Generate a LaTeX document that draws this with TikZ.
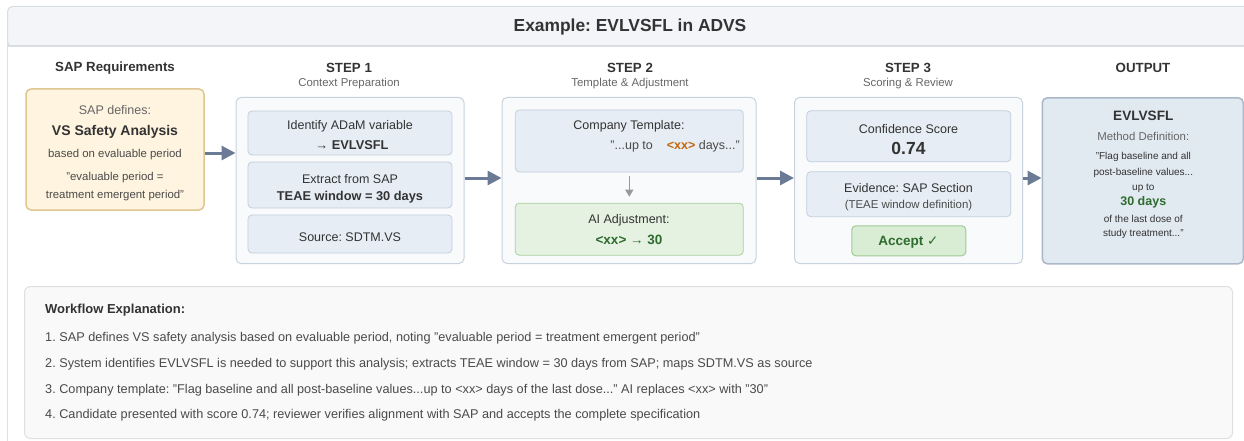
\documentclass[tikz,border=0pt]{standalone}
\usepackage{fontspec}
\setmainfont{Liberation Sans}
\newfontfamily\symfont{DejaVu Sans}
\usetikzlibrary{arrows.meta}
\frenchspacing

\definecolor{ink}{HTML}{333333}
\definecolor{soft}{HTML}{666666}
\definecolor{mid}{HTML}{4A4A4A}
\definecolor{titlefill}{HTML}{F4F5F8}
\definecolor{titleline}{HTML}{DADDE2}
\definecolor{frameline}{HTML}{E0E0E0}
\definecolor{sapfill}{HTML}{FFF4DF}
\definecolor{sapline}{HTML}{DEC792}
\definecolor{panelfill}{HTML}{F8FAFC}
\definecolor{panelline}{HTML}{C9D2DD}
\definecolor{infill}{HTML}{E6EDF4}
\definecolor{inline}{HTML}{C3CFDC}
\definecolor{greenfill}{HTML}{E5F2E1}
\definecolor{greenline}{HTML}{A9D19C}
\definecolor{okfill}{HTML}{D8EDD3}
\definecolor{okline}{HTML}{9FCB95}
\definecolor{okink}{HTML}{2E6B2E}
\definecolor{outfill}{HTML}{E1E9F1}
\definecolor{outline}{HTML}{A9B7C8}
\definecolor{flowc}{HTML}{6B7B95}
\definecolor{tmplc}{HTML}{C8650A}
\definecolor{notefill}{HTML}{F9F9F9}

\begin{document}
\begin{tikzpicture}[x=1pt,y=-1pt,
  txt/.style={inner sep=0pt, text=ink, font=\fontsize{12.5}{15}\selectfont},
  bold/.style={inner sep=0pt, text=ink, font=\fontsize{12.8}{15}\selectfont\bfseries},
  hdr/.style={inner sep=0pt, text=ink, font=\fontsize{13.3}{16}\selectfont\bfseries},
  sub/.style={inner sep=0pt, text=soft, font=\fontsize{11.4}{14}\selectfont},
  quote/.style={inner sep=0pt, text=ink, font=\fontsize{10}{12}\selectfont},
  note/.style={inner sep=0pt, anchor=west, text=mid, font=\fontsize{12.7}{15}\selectfont},
  panel/.style={draw=panelline, fill=panelfill, rounded corners=5pt, line width=1pt,
    minimum width=#1, minimum height=166pt, inner sep=0pt},
  inbox/.style={draw=inline, fill=infill, rounded corners=4pt, line width=0.8pt, inner sep=0pt},
  flow/.style={draw=flowc, line width=3pt, -{Triangle[length=14pt,width=14pt]}},
]
\useasboundingbox (0,0) rectangle (1244,441);
\clip (0,0) rectangle (1244,441);

% frame and title bar
\draw[frameline, line width=1pt] (7,30) -- (7,445);
\node[draw=titleline, fill=titlefill, rounded corners=5pt, line width=1pt,
  minimum width=1260pt, minimum height=40pt, anchor=north west, inner sep=0pt] (bar) at (7,6) {};
\draw[titleline, line width=1.5pt] (7.5,46) -- (1244,46);
\node[inner sep=0pt, text=ink, font=\fontsize{17.4}{20}\selectfont\bfseries] (title) at (630,27) {Example: EVLVSFL in ADVS};

% column headers
\node[hdr] (h0) at (115,68) {SAP Requirements};
\node[hdr] (h1) at (349,68) {STEP 1};
\node[sub] (h1s) at (349,84) {Context Preparation};
\node[hdr] (h2) at (630,68) {STEP 2};
\node[sub] (h2s) at (630,84) {Template \& Adjustment};
\node[hdr] (h3) at (908,68) {STEP 3};
\node[sub] (h3s) at (908,84) {Scoring \& Review};
\node[hdr] (h4) at (1143,68) {OUTPUT};

% SAP requirements
\node[draw=sapline, fill=sapfill, rounded corners=5pt, line width=1.5pt, inner sep=0pt,
  minimum width=178pt, minimum height=121pt] (sap) at (115,149.5) {};
\node[txt, text=soft] (sap1) at (115,110.5) {SAP defines:};
\node[bold, font=\fontsize{14}{17}\selectfont\bfseries] (sap2) at (115,131.5) {VS Safety Analysis};
\node[sub, text=mid] (sap3) at (115,155) {based on evaluable period};
\node[sub, text=mid] (sap4) at (115,177.5) {"evaluable period =};
\node[sub, text=mid] (sap5) at (115,195.5) {treatment emergent period"};

% step 1
\node[panel=228pt] (s1) at (350,180.5) {};
\node[inbox, minimum width=204pt, minimum height=44pt] (s1a) at (350,133) {};
\node[txt] (s1a1) at (350,126.7) {Identify ADaM variable};
\node[bold] (s1a2) at (352,145) {→ EVLVSFL};
\node[inbox, minimum width=204pt, minimum height=46pt] (s1b) at (350,185) {};
\node[txt] (s1b1) at (350,179) {Extract from SAP};
\node[bold] (s1b2) at (350,196.7) {TEAE window = 30 days};
\node[inbox, minimum width=204pt, minimum height=38pt] (s1c) at (350,234) {};
\node[txt] (s1c1) at (350,236.7) {Source: SDTM.VS};

% step 2
\node[panel=254pt] (s2) at (629,180.5) {};
\node[inbox, minimum width=228pt, minimum height=62pt] (s2a) at (629.3,141) {};
\node[txt] (s2a1) at (629,126.7) {Company Template:};
\node[txt, anchor=east, text=mid] (s2a2) at (740,146.7)
  {"...up to\hspace{14pt}{\color{tmplc}\bfseries <xx>} days..."};
\node[draw=greenline, fill=greenfill, rounded corners=4pt, line width=0.8pt, inner sep=0pt,
  minimum width=228pt, minimum height=52pt] (s2b) at (629.3,229.2) {};
\node[txt] (s2b1) at (629,220) {AI Adjustment:};
\node[bold, text=okink, font=\fontsize{13.5}{16}\selectfont\bfseries] (s2b2) at (629,240) {<xx> → 30};
\draw[draw=gray!80, line width=1.5pt, -{Triangle[length=7pt,width=8pt]}] (s2a.south) ++(0,4) coordinate (gtop) -- (s2b.north |- 0,196.7);

% step 3
\node[panel=228pt] (s3) at (908.5,180.5) {};
\node[inbox, minimum width=204pt, minimum height=51pt] (s3a) at (908.8,136.3) {};
\node[txt] (s3a1) at (908.5,129) {Confidence Score};
\node[inner sep=0pt, text=ink, font=\fontsize{17.5}{20}\selectfont\bfseries] (s3a2) at (908.5,148.3) {0.74};
\node[inbox, minimum width=204pt, minimum height=45pt] (s3b) at (908.8,194.2) {};
\node[txt] (s3b1) at (908.5,187.7) {Evidence: SAP Section};
\node[sub, text=mid] (s3b2) at (908.5,205.7) {(TEAE window definition)};
\node[draw=okline, fill=okfill, rounded corners=4pt, line width=1pt, inner sep=0pt,
  minimum width=114pt, minimum height=30pt] (ok) at (908.8,240.8) {};
\node[bold, text=okink, font=\fontsize{13.5}{16}\selectfont\bfseries] (okt) at (908.5,242) {Accept {\symfont\mdseries ✓}};

% output
\node[draw=outline, fill=outfill, rounded corners=5pt, line width=1.5pt, inner sep=0pt,
  minimum width=201pt, minimum height=166pt] (out) at (1142.8,180.8) {};
\node[inner sep=0pt, text=ink, font=\fontsize{13.6}{16}\selectfont\bfseries] (o1) at (1143.3,116) {EVLVSFL};
\node[sub] (o2) at (1143.3,136) {Method Definition:};
\node[quote] (o3) at (1143.3,157.3) {"Flag baseline and all};
\node[quote] (o4) at (1143.3,173.3) {post-baseline values...};
\node[quote] (o5) at (1143.3,188.3) {up to};
\node[inner sep=0pt, text=okink, font=\fontsize{12.5}{15}\selectfont\bfseries] (o6) at (1143.3,202.7) {30 days};
\node[quote] (o7) at (1143.3,219.3) {of the last dose of};
\node[quote] (o8) at (1143.3,234.3) {study treatment..."};

% flow arrows
\draw[flow] (sap.east |- 0,153) -- (s1.west |- 0,153);
\draw[flow] (s1.east |- 0,178) -- (s2.west |- 0,178);
\draw[flow] (s2.east |- 0,178) -- (s3.west |- 0,178);
\draw[flow] (s3.east |- 0,178) -- (out.west |- 0,178);

% explanation panel
\node[draw=frameline, fill=notefill, rounded corners=6pt, line width=1pt, inner sep=0pt,
  minimum width=1208pt, minimum height=152pt, anchor=north west] (notes) at (24,286) {};
\node[note, font=\fontsize{13}{16}\selectfont\bfseries, text=ink] (n0) at (45,310) {Workflow Explanation:};
\node[note] (n1) at (45,338.5) {1. SAP defines VS safety analysis based on evaluable period, noting "evaluable period = treatment emergent period"};
\node[note] (n2) at (45,364.5) {2. System identifies EVLVSFL is needed to support this analysis; extracts TEAE window = 30 days from SAP; maps SDTM.VS as source};
\node[note] (n3) at (45,390) {3. Company template: "Flag baseline and all post-baseline values...up to <xx> days of the last dose..." AI replaces <xx> with "30"};
\node[note] (n4) at (45,415.5) {4. Candidate presented with score 0.74; reviewer verifies alignment with SAP and accepts the complete specification};
\end{tikzpicture}
\end{document}
